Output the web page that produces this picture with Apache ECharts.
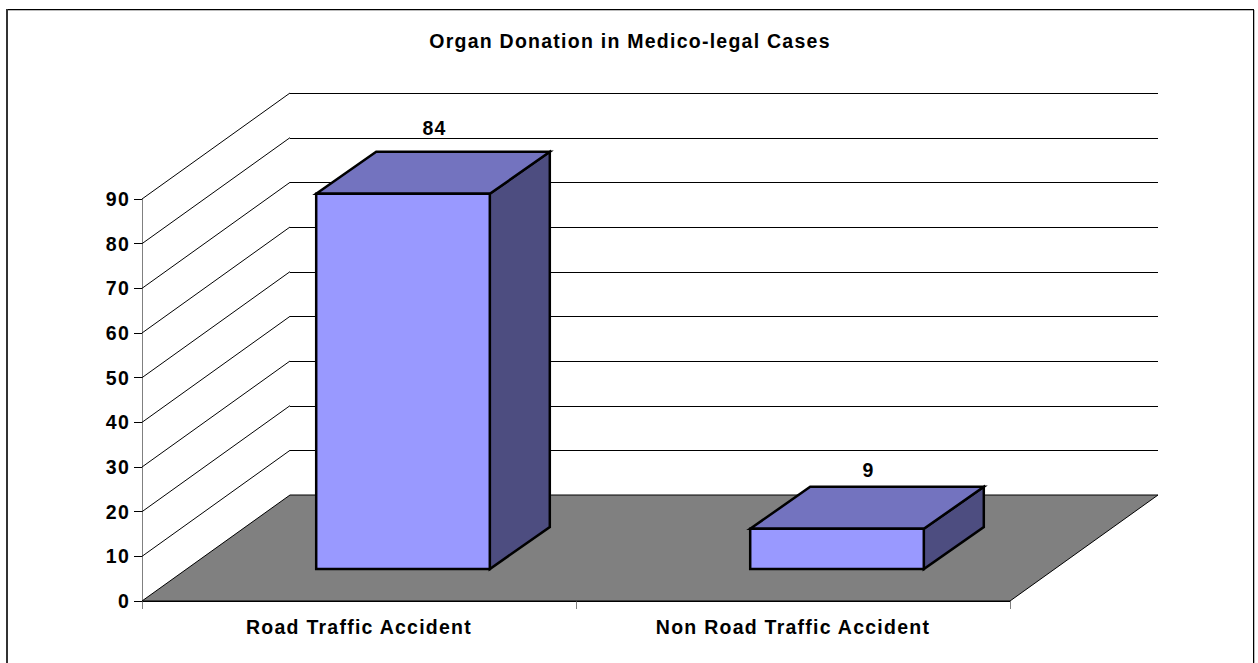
<!DOCTYPE html>
<html><head><meta charset="utf-8">
<script src="https://cdn.jsdelivr.net/npm/echarts@6/dist/echarts.min.js"></script>
<style>html,body{margin:0;padding:0;background:#fff}#c{width:1258px;height:663px}#c text{letter-spacing:1.25px}</style>
</head><body><div id="c"></div>
<script>
const categories = ['Road Traffic Accident', 'Non Road Traffic Accident'];
const values = [84, 9];
const yTicks = [0, 10, 20, 30, 40, 50, 60, 70, 80, 90];
const titleText = 'Organ Donation in Medico-legal Cases';

const FONT = '"Liberation Sans", Arial, sans-serif';
const FS = 19.5;
const DX = 148, DY = -106;          // chart depth
const BAR_OFF_X = 44, BAR_OFF_Y = -32; // bar placement inside the depth
const BAR_DX = 60, BAR_DY = -42;    // bar depth
const BAR_W = 0.4;

const chart = echarts.init(document.getElementById('c'), null, {renderer: 'svg'});
const line = (x1, y1, x2, y2, stroke, w) => ({type: 'line', silent: true,
  shape: {x1, y1, x2, y2}, style: {stroke, lineWidth: w || 1}});

function renderWall(params, api) {
  const v = api.value(1), cs = params.coordSys;
  const y = api.coord([0, v])[1], x0 = cs.x, x1 = cs.x + cs.width;
  const kids = [];
  if (v === 0) {
    kids.push({type: 'polygon', shape: {points: [[x0, y], [x1, y], [x1 + DX, y + DY], [x0 + DX, y + DY]]},
      style: {fill: '#808080', stroke: '#000', lineWidth: 1}});
  } else {
    kids.push(line(x0, y, x0 + DX, y + DY, '#000'));
    kids.push(line(x0 + DX, Math.round(y + DY) + .5, x1 + DX, Math.round(y + DY) + .5, '#000'));
  }
  return {type: 'group', children: kids};
}

function renderBar(params, api) {
  const val = api.value(1);
  const c = api.coord([api.value(0), val]), b = api.coord([api.value(0), 0]);
  const w = api.size([1, 0])[0] * BAR_W;
  const l = c[0] - w / 2 + BAR_OFF_X, r = l + w;
  const t = c[1] + BAR_OFF_Y, bt = b[1] + BAR_OFF_Y;
  const st = {stroke: '#000', lineWidth: 2.5, lineJoin: 'miter'};
  return {type: 'group', children: [
    {type: 'polygon', shape: {points: [[r, t], [r + BAR_DX, t + BAR_DY], [r + BAR_DX, bt + BAR_DY], [r, bt]]},
      style: Object.assign({fill: '#4D4D80'}, st)},
    {type: 'polygon', shape: {points: [[l, t], [l + BAR_DX, t + BAR_DY], [r + BAR_DX, t + BAR_DY], [r, t]]},
      style: Object.assign({fill: '#7373BF'}, st)},
    {type: 'rect', shape: {x: l, y: t, width: w, height: bt - t},
      style: Object.assign({fill: '#9999FF'}, st)},
    {type: 'text', style: {text: String(val), x: (l + r) / 2 + 31.5, y: t + BAR_DY - 16 - 7.5 * val / 84,
      align: 'center', verticalAlign: 'middle', fill: '#000', font: 'bold ' + FS + 'px ' + FONT}}
  ]};
}

const frame = [
  [6, 9, 1248, 1, '#000'], [8, 10, 1245, 1, '#bbb'],
  [6, 9, 2, 654, '#333'], [1253, 9, 1, 654, '#000'], [1254, 10, 1, 653, '#bbb']
];

chart.setOption({
  animation: false,
  backgroundColor: '#fff',
  title: {text: titleText, left: 625, textAlign: 'center', top: 26,
    textStyle: {fontFamily: FONT, fontWeight: 'bold', fontSize: FS, color: '#000'}},
  graphic: frame.map(f => ({type: 'rect', silent: true, shape: {x: f[0], y: f[1], width: f[2], height: f[3]},
    style: {fill: f[4]}})),
  grid: {left: 142, width: 868, top: 199, height: 402},
  xAxis: {type: 'category', data: categories,
    axisLine: {lineStyle: {color: '#000', width: 1}},
    axisTick: {show: true, alignWithLabel: false, length: 8, lineStyle: {color: '#808080'}},
    axisLabel: {color: '#000', fontFamily: FONT, fontWeight: 'bold', fontSize: FS, margin: 16},
    splitLine: {show: false}},
  yAxis: {type: 'value', min: 0, max: 90, interval: 10,
    axisLine: {show: true, lineStyle: {color: '#808080', width: 1}},
    axisTick: {show: true, length: 8, lineStyle: {color: '#000'}},
    axisLabel: {color: '#000', fontFamily: FONT, fontWeight: 'bold', fontSize: FS, margin: 12, padding: [0, 0, 2, 0]},
    splitLine: {show: false}},
  series: [
    {type: 'custom', name: 'walls', renderItem: renderWall, silent: true, z: 1,
     encode: {x: 0, y: 1}, data: yTicks.map(v => [0, v])},
    {type: 'custom', name: 'bars', renderItem: renderBar, z: 3,
     encode: {x: 0, y: 1}, data: values.map((v, i) => [i, v])}
  ]
});
</script></body></html>
